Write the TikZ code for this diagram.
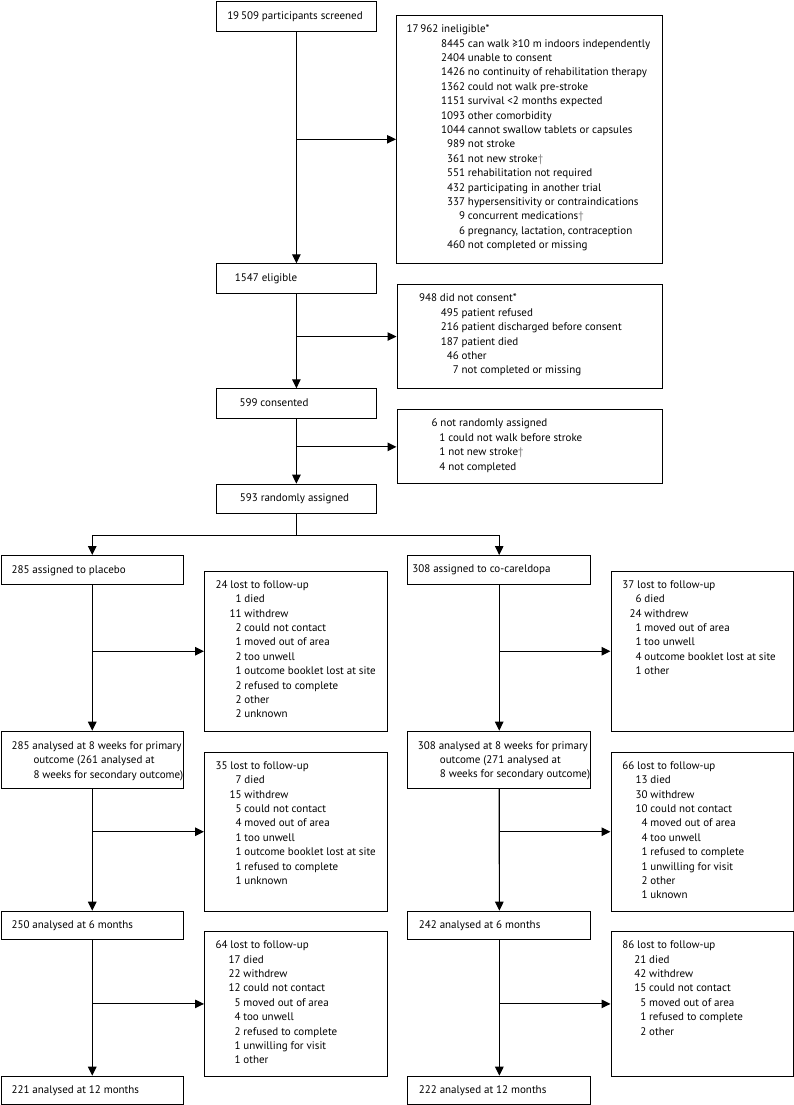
\documentclass[tikz,border=0pt]{standalone}
\usepackage{fontspec}
\setmainfont{PT Sans}
\usetikzlibrary{arrows.meta}
\newlength\nw
\newcommand\fnt{\fontsize{11}{14.4}\selectfont}
\newcommand\dg{\textcolor{black!50}{†}}
\newcommand\ent[2]{\makebox[\nw][r]{#1}\ #2}
% side box text: width, height, left pad, number width, text
\newcommand\sidetext[5]{\parbox[t][#2][t]{#1}{\fnt\vspace*{7pt}\raggedright\leftskip=#3\relax\parindent=0pt\setlength\nw{#4}\strut #5}}
% main box text: width, height, left pad, text
\newcommand\maintext[4]{\parbox[t][#2][c]{#1}{\fnt\raggedright\leftskip=#3\relax\parindent=0pt\strut #4}}
\tikzset{
  box/.style={draw, line width=1.1pt, inner sep=0pt, anchor=north west},
  conn/.style={line width=1.1pt},
  arr/.style={line width=1.1pt, -{Triangle[length=9pt,width=8.5pt]}}
}
\begin{document}
\begin{tikzpicture}[x=1pt,y=-1pt]
\useasboundingbox (0,0) rectangle (794,1105);
% main flow
\node[box] (scr) at (216,1) {\maintext{159.7pt}{30pt}{10.7pt}{19\,509 participants screened}};
\node[box] (elig) at (216,263.3) {\maintext{159.7pt}{30pt}{18.3pt}{1547 eligible}};
\node[box] (cons) at (216,388.3) {\maintext{159.7pt}{30pt}{23pt}{599 consented}};
\node[box] (rand) at (216,483.7) {\maintext{159.7pt}{29.6pt}{23.3pt}{593 randomly assigned}};
% exclusion boxes
\node[box] (inel) at (396,15) {\sidetext{266pt}{247.5pt}{10pt}{58.5pt}{17\,962 ineligible*\\
\ent{8445}{can walk ≥10 m indoors independently}\\
\ent{2404}{unable to consent}\\
\ent{1426}{no continuity of rehabilitation therapy}\\
\ent{1362}{could not walk pre-stroke}\\
\ent{1151}{survival <2 months expected}\\
\ent{1093}{other comorbidity}\\
\ent{1044}{cannot swallow tablets or capsules}\\
\ent{989}{not stroke}\\
\ent{361}{not new stroke\dg}\\
\ent{551}{rehabilitation not required}\\
\ent{432}{participating in another trial}\\
\ent{337}{hypersensitivity or contraindications}\\
\ent{9}{concurrent medications\dg}\\
\ent{6}{pregnancy, lactation, contraception}\\
\ent{460}{not completed or missing}}};
\node[box] (dnc) at (396.5,284.3) {\sidetext{265.5pt}{103.4pt}{22pt}{39.7pt}{948 did not consent*\\
\ent{495}{patient refused}\\
\ent{216}{patient discharged before consent}\\
\ent{187}{patient died}\\
\ent{46}{other}\\
\ent{7}{not completed or missing}}};
\node[box] (nra) at (396.5,409.3) {\sidetext{265.5pt}{74pt}{34.5pt}{13.9pt}{6 not randomly assigned\\
\ent{1}{could not walk before stroke}\\
\ent{1}{not new stroke\dg}\\
\ent{4}{not completed}}};
% arms
\node[box] (plac) at (0.7,555) {\maintext{182pt}{29.3pt}{10.3pt}{285 assigned to placebo}};
\node[box] (coca) at (407.3,555) {\maintext{182.7pt}{29pt}{4.5pt}{308 assigned to co-careldopa}};
\node[box] (l24) at (204,570.7) {\sidetext{182.7pt}{160pt}{11pt}{26pt}{24 lost to follow-up\\
\ent{1}{died}\\
\ent{11}{withdrew}\\
\ent{2}{could not contact}\\
\ent{1}{moved out of area}\\
\ent{2}{too unwell}\\
\ent{1}{outcome booklet lost at site}\\
\ent{2}{refused to complete}\\
\ent{2}{other}\\
\ent{2}{unknown}}};
\node[box] (l37) at (610.5,570.7) {\sidetext{182.8pt}{160pt}{11.2pt}{19.3pt}{37 lost to follow-up\\
\ent{6}{died}\\
\ent{24}{withdrew}\\
\ent{1}{moved out of area}\\
\ent{1}{too unwell}\\
\ent{4}{outcome booklet lost at site}\\
\ent{1}{other}}};
\node[box] (a285) at (0.7,730.7) {\maintext{182pt}{57.6pt}{10.3pt}{285 analysed at 8 weeks for primary\\
\hspace*{22pt}outcome (261 analysed at\\
\hspace*{22pt}8 weeks for secondary outcome)}};
\node[box] (a308) at (407.3,730.7) {\maintext{182.7pt}{57pt}{10pt}{308 analysed at 8 weeks for primary\\
\hspace*{22pt}outcome (271 analysed at\\
\hspace*{22pt}8 weeks for secondary outcome)}};
\node[box] (l35) at (204,751.7) {\sidetext{182.7pt}{159pt}{11pt}{26pt}{35 lost to follow-up\\
\ent{7}{died}\\
\ent{15}{withdrew}\\
\ent{5}{could not contact}\\
\ent{4}{moved out of area}\\
\ent{1}{too unwell}\\
\ent{1}{outcome booklet lost at site}\\
\ent{1}{refused to complete}\\
\ent{1}{unknown}}};
\node[box] (l66) at (610.5,751.7) {\sidetext{182.8pt}{159pt}{11.2pt}{25.3pt}{66 lost to follow-up\\
\ent{13}{died}\\
\ent{30}{withdrew}\\
\ent{10}{could not contact}\\
\ent{4}{moved out of area}\\
\ent{4}{too unwell}\\
\ent{1}{refused to complete}\\
\ent{1}{unwilling for visit}\\
\ent{2}{other}\\
\ent{1}{uknown}}};
\node[box] (s250) at (0.7,910.7) {\maintext{182pt}{28.6pt}{10.3pt}{250 analysed at 6 months}};
\node[box] (s242) at (407.3,910.7) {\maintext{183pt}{28.6pt}{11pt}{242 analysed at 6 months}};
\node[box] (l64) at (204,931) {\sidetext{182.7pt}{144.7pt}{11pt}{25pt}{64 lost to follow-up\\
\ent{17}{died}\\
\ent{22}{withdrew}\\
\ent{12}{could not contact}\\
\ent{5}{moved out of area}\\
\ent{4}{too unwell}\\
\ent{2}{refused to complete}\\
\ent{1}{unwilling for visit}\\
\ent{1}{other}}};
\node[box] (l86) at (610.5,931) {\sidetext{182.8pt}{144.7pt}{11.2pt}{24pt}{86 lost to follow-up\\
\ent{21}{died}\\
\ent{42}{withdrew}\\
\ent{15}{could not contact}\\
\ent{5}{moved out of area}\\
\ent{1}{refused to complete}\\
\ent{2}{other}}};
\node[box] (t221) at (0.7,1075.7) {\maintext{182pt}{28.6pt}{10.3pt}{221 analysed at 12 months}};
\node[box] (t222) at (407.3,1075.7) {\maintext{183pt}{28.6pt}{11pt}{222 analysed at 12 months}};
% connectors
\draw[arr] (scr.south) -- (elig.north);
\draw[arr] (scr.south |- inel.west) -- (inel.west);
\draw[arr] (elig.south) -- (cons.north);
\draw[arr] (elig.south |- dnc.west) -- (dnc.west);
\draw[arr] (cons.south) -- (rand.north);
\draw[arr] (cons.south |- nra.west) -- (nra.west);
\draw[conn] (rand.south) -- ++(0,21) coordinate (split);
\draw[arr] (split) -| (plac.north);
\draw[arr] (split) -| (coca.north);
\draw[arr] (plac.south) -- (a285.north);
\draw[arr] (plac.south |- l24.west) -- (l24.west);
\draw[arr] (coca.south) -- (a308.north);
\draw[arr] (coca.south |- l37.west) -- (l37.west);
\draw[arr] (a285.south) -- (s250.north);
\draw[arr] (a285.south |- l35.west) -- (l35.west);
\draw[arr] (a308.south) -- (s242.north);
\draw[arr] (a308.south |- l66.west) -- (l66.west);
\draw[arr] (s250.south) -- (t221.north);
\draw[arr] (s250.south |- l64.west) -- (l64.west);
\draw[arr] (s242.south) -- (t222.north);
\draw[arr] (s242.south |- l86.west) -- (l86.west);
\end{tikzpicture}
\end{document}
